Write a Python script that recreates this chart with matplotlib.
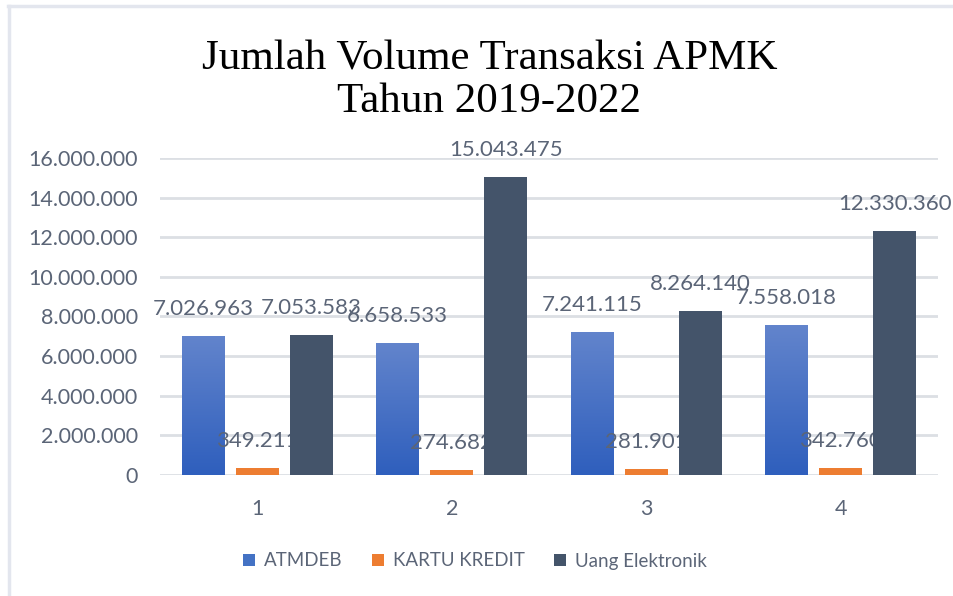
import numpy as np
import matplotlib.pyplot as plt
from matplotlib.lines import Line2D
from matplotlib.colors import LinearSegmentedColormap

categories = ["1", "2", "3", "4"]
atmdeb = [7026963, 6658533, 7241115, 7558018]
kartu_kredit = [349211, 274682, 281901, 342760]
uang_elektronik = [7053583, 15043475, 8264140, 12330360]
series_names = ["ATMDEB", "KARTU KREDIT", "Uang Elektronik"]
yticks = np.arange(0, 16000001, 2000000)

TXT = "#5b6577"
plt.rcParams['font.family'] = ['Lato', 'DejaVu Sans']

def fmt(v):
    return f"{v:,}".replace(",", ".")

fig = plt.figure(figsize=(9.54, 5.96), dpi=100)
ax = fig.add_axes([160 / 954, 0.203, 778 / 954, 0.532])

x = np.arange(1, len(categories) + 1)
w = 0.221
off = 0.278

b1 = ax.bar(x - off, atmdeb, w, color="#4472C4", zorder=2, label=series_names[0])
b2 = ax.bar(x, kartu_kredit, w, color="#ED7D31", zorder=2, label=series_names[1])
b3 = ax.bar(x + off, uang_elektronik, w, color="#44546A", zorder=4, label=series_names[2])

# gradient fill on the ATMDEB bars (lighter at top)
grad = np.linspace(0, 1, 100).reshape(-1, 1)
cmap = LinearSegmentedColormap.from_list("g", ["#2f5fbd", "#6284cc"])
for bar in b1:
    bx, bw, bh = bar.get_x(), bar.get_width(), bar.get_height()
    im = ax.imshow(grad, extent=[bx, bx + bw, 0, bh], origin="lower",
                   cmap=cmap, aspect="auto", zorder=2.1)
    im.set_clip_path(bar)

for bars, vals in [(b1, atmdeb), (b2, kartu_kredit), (b3, uang_elektronik)]:
    for bar, v in zip(bars, vals):
        ax.annotate(fmt(v), (bar.get_x() + bar.get_width() / 2, v),
                    xytext=(0, 27), textcoords="offset pixels",
                    ha="center", va="center", fontsize=16, color=TXT, zorder=3)

ax.set_xlim(0.5, 4.5)
ax.set_ylim(0, 16000000)
ax.set_xticks(x)
ax.set_xticklabels(categories)
ax.set_yticks(yticks)
ax.set_yticklabels([fmt(int(t)) for t in yticks])
ax.tick_params(axis="both", length=0, labelsize=15.5, colors=TXT)
ax.tick_params(axis="y", pad=16)
ax.tick_params(axis="x", pad=17)
ax.grid(axis="y", color="#dcdfe4", linewidth=2)
ax.set_axisbelow(True)
for s in ax.spines.values():
    s.set_visible(False)

fig.text(0.513, 0.865, "Jumlah Volume Transaksi APMK\nTahun 2019-2022",
         ha="center", va="center", fontsize=31, family="Liberation Serif",
         color="black", linespacing=1.15)

fig.legend(loc="center", bbox_to_anchor=(475 / 954, 1 - 561 / 596), ncol=3,
           frameon=False, fontsize=13.5, handlelength=0.6, handleheight=0.6,
           handletextpad=0.48, columnspacing=1.6, labelcolor=TXT)

# screenshot border
fig.add_artist(Line2D([8 / 954, 1], [1 - 6 / 596, 1 - 6 / 596], color="#e3e6ee", lw=2.5))
fig.add_artist(Line2D([9 / 954, 9 / 954], [0, 1 - 6 / 596], color="#e3e6ee", lw=2.5))

fig.savefig("out.png", dpi=100)
